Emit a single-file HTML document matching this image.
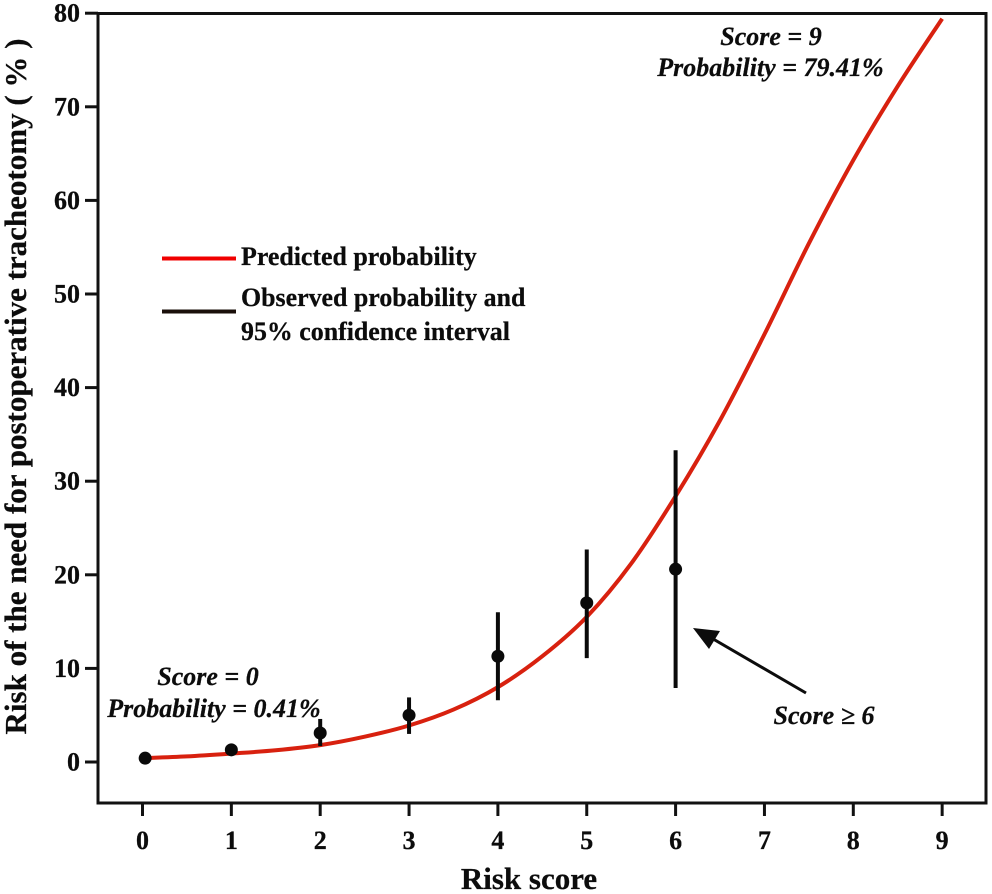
<!DOCTYPE html>
<html lang="en">
<head>
<meta charset="utf-8">
<title>Risk of the need for postoperative tracheotomy</title>
<style>
html,body{margin:0;padding:0;background:#fff;width:992px;height:894px;overflow:hidden}
svg{display:block}
text{font-family:"Liberation Serif",serif;font-weight:bold;fill:#0c0c0c;stroke:#0c0c0c;stroke-width:.25px}
.tick{font-size:26px}
.title{font-size:31px}
.leg{font-size:25.9px}
.note{font-size:26px;font-style:italic}
</style>
</head>
<body>
<svg id="chart" width="992" height="894" viewBox="0 0 992 894" xmlns="http://www.w3.org/2000/svg">
  <rect x="98" y="13.5" width="888" height="789.5" fill="none" stroke="#111" stroke-width="3"/>
  <g id="axes"></g>
  <path id="curve" fill="none" stroke="#d8210f" stroke-width="4" stroke-linejoin="round"></path>
  <g id="observed"></g>

  <text class="title" x="529" y="889" text-anchor="middle">Risk score</text>
  <text class="title" transform="translate(26,386.5) rotate(-90)" text-anchor="middle">Risk of the need for postoperative tracheotomy ( % )</text>

  <g>
    <line x1="162" y1="258.5" x2="236" y2="258.5" stroke="#f00000" stroke-width="4"/>
    <text class="leg" x="241" y="265">Predicted probability</text>
    <line x1="162" y1="311.5" x2="236" y2="311.5" stroke="#1a0f0a" stroke-width="4"/>
    <text class="leg" x="241" y="306">Observed probability and</text>
    <text class="leg" x="241" y="340">95% confidence interval</text>
  </g>

  <text class="note" x="771" y="45" text-anchor="middle">Score = 9</text>
  <text class="note" x="770.5" y="76" text-anchor="middle">Probability = 79.41%</text>
  <text class="note" x="208" y="685" text-anchor="middle">Score = 0</text>
  <text class="note" x="214" y="717" text-anchor="middle">Probability = 0.41%</text>
  <text class="note" x="824" y="724" text-anchor="middle">Score ≥ 6</text>

  <g>
    <line x1="806" y1="693" x2="708" y2="636" stroke="#0c0c0c" stroke-width="3"/>
    <polygon points="693,628 720,631 709,649" fill="#0c0c0c"/>
  </g>
</svg>
<script>
const xTicks = [0, 1, 2, 3, 4, 5, 6, 7, 8, 9];
const yTicks = [0, 10, 20, 30, 40, 50, 60, 70, 80];
const curveScores = [0, 0.5, 1, 1.5, 2, 2.5, 3, 3.5, 4, 4.5, 5, 5.5, 6, 6.5, 7, 7.5, 8, 8.5, 9];
const curveRisk = [0.41, 0.6, 0.9, 1.25, 1.8, 2.7, 3.9, 5.6, 8, 11.3, 15.5, 21.2, 28.4, 36.5, 45.7, 55.4, 64.3, 72.2, 79.41];
const obsScores = [0.03, 1, 2, 3, 4, 5, 6];
const obsRisk = [0.41, 1.3, 3.1, 5, 11.3, 17, 20.6];
const ciScores = [2, 3, 4, 5, 6];
const ciLow = [1.7, 3, 6.6, 11.1, 7.9];
const ciHigh = [4.6, 6.9, 16, 22.7, 33.3];

const NS = 'http://www.w3.org/2000/svg';
function sx(v) { return 142.5 + 88.85 * v; }
function sy(v) { return 762 - 9.36 * v; }
function make(tag, attrs) {
  const el = document.createElementNS(NS, tag);
  for (const k in attrs) el.setAttribute(k, attrs[k]);
  return el;
}
const axes = document.getElementById('axes');
xTicks.forEach(function (t) {
  const line = make('line', { x1: sx(t), x2: sx(t), y1: 803, y2: 816, stroke: '#111', 'stroke-width': 3 });
  
  
  axes.appendChild(line);
  const label = make('text', { x: sx(t), y: 849, 'text-anchor': 'middle', class: 'tick' });
  
  
  label.textContent = t;
  axes.appendChild(label);
});
yTicks.forEach(function (t) {
  const line = make('line', { x1: 85, x2: 98, y1: sy(t), y2: sy(t), stroke: '#111', 'stroke-width': 3 });
  
  
  axes.appendChild(line);
  const label = make('text', { x: 80, y: sy(t) + 8.5, 'text-anchor': 'end', class: 'tick' });
  
  
  label.textContent = t;
  axes.appendChild(label);
});

const pts = curveScores.map(function (s, i) { return [sx(s), sy(curveRisk[i])]; });
let d = 'M' + pts[0][0] + ' ' + pts[0][1];
for (let i = 0; i < pts.length - 1; i++) {
  const p0 = pts[Math.max(i - 1, 0)], p1 = pts[i], p2 = pts[i + 1], p3 = pts[Math.min(i + 2, pts.length - 1)];
  d += ' C' + (p1[0] + (p2[0] - p0[0]) / 6) + ' ' + (p1[1] + (p2[1] - p0[1]) / 6) + ' ' +
       (p2[0] - (p3[0] - p1[0]) / 6) + ' ' + (p2[1] - (p3[1] - p1[1]) / 6) + ' ' + p2[0] + ' ' + p2[1];
}
document.getElementById('curve').setAttribute('d', d);

const observed = document.getElementById('observed');
ciScores.forEach(function (s, i) {
  const bar = make('line', { x1: sx(s), x2: sx(s), y1: sy(ciLow[i]), y2: sy(ciHigh[i]), stroke: '#0a0a0a', 'stroke-width': 4 });
  
  
  observed.appendChild(bar);
});
obsScores.forEach(function (s, i) {
  const dot = make('circle', { cx: sx(s), cy: sy(obsRisk[i]), r: 6.5, fill: '#0a0a0a' });
  
  
  observed.appendChild(dot);
});
</script>
</body>
</html>
